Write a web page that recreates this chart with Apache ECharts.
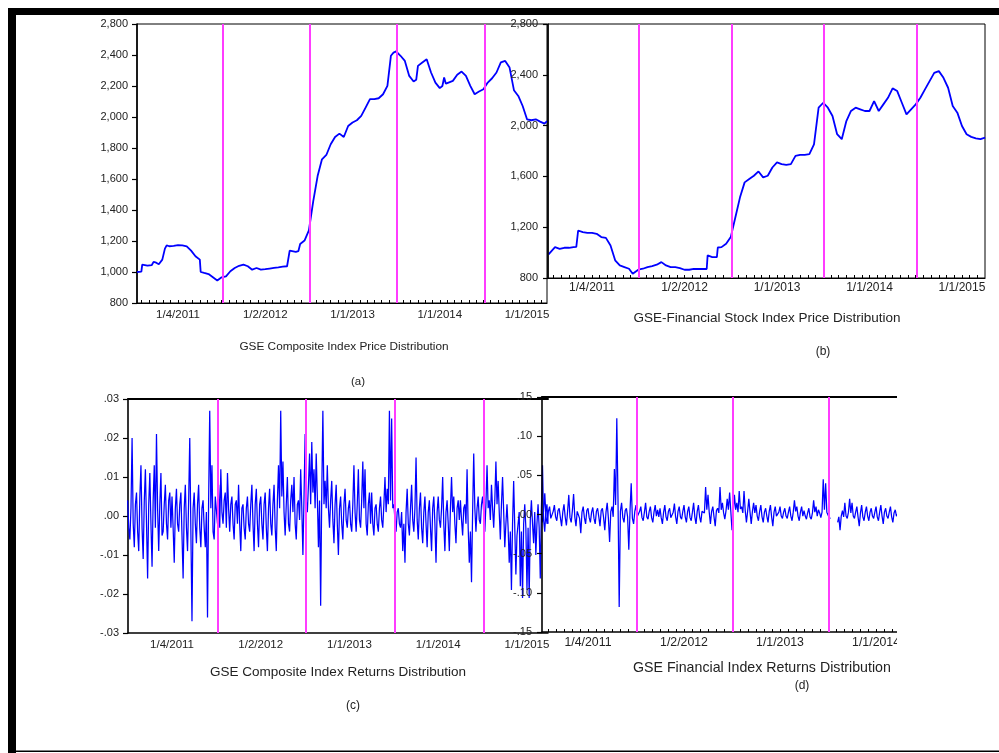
<!DOCTYPE html>
<html>
<head>
<meta charset="utf-8">
<script src="https://cdn.jsdelivr.net/npm/echarts@6/dist/echarts.min.js"></script>
<style>html,body{margin:0;padding:0;background:#fff}#chart{width:999px;height:753px}</style>
</head>
<body>
<div id="chart"></div>
<script>
// ---------- data ----------
const xTickYears = [2011, 2012, 2013, 2014, 2015];
const xTickLabels = ['1/4/2011', '1/2/2012', '1/1/2013', '1/1/2014', '1/1/2015'];
const breakYears = [2011.51, 2012.505, 2013.51, 2014.505];

const compPriceTickValues = [800, 1000, 1200, 1400, 1600, 1800, 2000, 2200, 2400, 2600];
const compPriceTickLabels = ['800', '1,000', '1,200', '1,400', '1,600', '1,800', '2,000', '2,200', '2,400', '2,800'];
const finPriceTickValues = [800, 1200, 1600, 2000, 2400, 2800];
const finPriceTickLabels = ['800', '1,200', '1,600', '2,000', '2,400', '2,800'];

const compYears = [2010.53, 2010.55, 2010.58, 2010.59, 2010.6, 2010.65, 2010.7, 2010.72, 2010.75, 2010.78, 2010.8, 2010.82, 2010.85, 2010.87, 2010.9, 2010.95,
  2011.0, 2011.05, 2011.1, 2011.15, 2011.2, 2011.25, 2011.26, 2011.3, 2011.35, 2011.4, 2011.45, 2011.46, 2011.5, 2011.55, 2011.6, 2011.65, 2011.7, 2011.75, 2011.8, 2011.85, 2011.9, 2011.95,
  2012.0, 2012.05, 2012.1, 2012.15, 2012.2, 2012.25, 2012.27, 2012.28, 2012.3, 2012.35, 2012.38, 2012.4, 2012.45, 2012.5, 2012.55, 2012.6, 2012.65, 2012.7, 2012.75, 2012.8, 2012.85, 2012.9, 2012.95,
  2013.0, 2013.05, 2013.1, 2013.15, 2013.2, 2013.25, 2013.3, 2013.35, 2013.4, 2013.42, 2013.44, 2013.47, 2013.5, 2013.55, 2013.6, 2013.65, 2013.7, 2013.73, 2013.75, 2013.8, 2013.85, 2013.9, 2013.95,
  2014.0, 2014.03, 2014.05, 2014.07, 2014.1, 2014.15, 2014.2, 2014.25, 2014.3, 2014.35, 2014.4, 2014.45, 2014.5, 2014.55, 2014.6, 2014.65, 2014.7, 2014.75, 2014.8, 2014.85, 2014.9, 2014.95,
  2015.0, 2015.05, 2015.1, 2015.15, 2015.2, 2015.23];
const compPrice = [1000, 1000, 1002, 1048, 1043, 1041, 1045, 1065, 1060, 1050, 1048, 1080, 1151, 1172, 1166, 1168,
  1173, 1172, 1166, 1138, 1102, 1080, 1000, 994, 987, 966, 945, 940, 966, 972, 1005, 1026, 1040, 1048, 1037, 1015, 1026, 1015,
  1018, 1022, 1026, 1030, 1035, 1037, 1040, 1138, 1138, 1130, 1135, 1181, 1203, 1268, 1457, 1619, 1727, 1755, 1824, 1871, 1893, 1871, 1942,
  1964, 1979, 2007, 2061, 2115, 2115, 2121, 2147, 2201, 2212, 2395, 2415, 2423, 2395, 2362, 2265, 2229, 2240, 2330, 2352, 2373, 2287, 2222,
  2186, 2200, 2255, 2215, 2222, 2233, 2272, 2293, 2265, 2201, 2147, 2164, 2179, 2222, 2250, 2287, 2352, 2362, 2319, 2173, 2136, 2071,
  1985, 1979, 1985, 1970, 1957, 1974];

const finYears = [2010.53, 2010.55, 2010.6, 2010.65, 2010.7, 2010.75, 2010.8, 2010.83, 2010.85, 2010.9, 2010.95,
  2011.0, 2011.05, 2011.1, 2011.15, 2011.2, 2011.25, 2011.3, 2011.35, 2011.4, 2011.44, 2011.45, 2011.5, 2011.55, 2011.6, 2011.65, 2011.7, 2011.75, 2011.8, 2011.85, 2011.9, 2011.95,
  2012.0, 2012.05, 2012.1, 2012.15, 2012.2, 2012.24, 2012.25, 2012.3, 2012.35, 2012.36, 2012.4, 2012.45, 2012.5, 2012.55, 2012.6, 2012.65, 2012.7, 2012.75, 2012.8, 2012.85, 2012.9, 2012.95,
  2013.0, 2013.05, 2013.1, 2013.15, 2013.2, 2013.25, 2013.3, 2013.35, 2013.4, 2013.45, 2013.5, 2013.55, 2013.6, 2013.65, 2013.7, 2013.75, 2013.8, 2013.85, 2013.9, 2013.95,
  2014.0, 2014.05, 2014.1, 2014.15, 2014.2, 2014.25, 2014.3, 2014.35, 2014.4, 2014.45, 2014.5, 2014.55, 2014.6, 2014.65, 2014.7, 2014.75, 2014.8, 2014.85, 2014.9, 2014.95,
  2015.0, 2015.05, 2015.1, 2015.15, 2015.2, 2015.25];
const finPrice = [986, 991, 1043, 1030, 1038, 1038, 1043, 1045, 1174, 1161, 1155,
  1155, 1148, 1122, 1116, 1056, 939, 899, 886, 873, 834, 847, 865, 873, 886, 894, 905, 925, 899, 886, 886, 878,
  865, 865, 871, 871, 871, 871, 978, 965, 965, 1040, 1043, 1069, 1122, 1278, 1435, 1553, 1579, 1605, 1639, 1592, 1605, 1670,
  1710, 1697, 1691, 1697, 1762, 1770, 1770, 1775, 1853, 2141, 2180, 2141, 2076, 1932, 1893, 2036, 2115, 2141, 2128, 2115,
  2115, 2193, 2115, 2167, 2219, 2293, 2272, 2180, 2089, 2128, 2167, 2219, 2285, 2350, 2415, 2429, 2376, 2298, 2154, 2102,
  1997, 1932, 1911, 1900, 1893, 1906];

// returns: one value per observation, observations spaced returnsStepYears apart from returnsStartYear
const returnsStartYear = 2010.5;
const returnsStepYears = 0.0125;
const compReturns = [
  0.004, -0.003, -0.006, 0.002, 0.020, -0.002, -0.008, 0.003, 0.006, -0.004, -0.009, 0.005, 0.013, -0.003, -0.011, 0.004, 0.012, -0.002, -0.016, 0.003,
  0.011, -0.002, -0.013, 0.004, 0.013, -0.003, 0.021, 0.002, -0.009, 0.003, 0.011, -0.005, -0.004, 0.003, 0.008, -0.002, -0.006, 0.004, 0.006, -0.003,
  0.005, -0.003, -0.012, 0.002, 0.007, -0.002, -0.004, 0.003, 0.006, -0.005, -0.016, 0.002, 0.008, -0.003, -0.009, 0.004, 0.020, -0.004, -0.027, 0.002,
  0.006, -0.002, -0.007, 0.003, 0.008, -0.003, -0.008, 0.002, 0.004, -0.003, -0.008, 0.001, -0.026, 0.004, 0.027, 0.002, 0.013, -0.004, -0.006, 0.005,
  0.005, -0.002, 0.008, -0.003, 0.012, 0.001, -0.002, 0.004, 0.006, -0.003, 0.011, 0.002, -0.004, 0.003, 0.005, -0.002, -0.006, 0.003, 0.004, -0.002,
  0.008, -0.002, -0.009, 0.002, 0.003, -0.003, -0.006, 0.002, 0.005, -0.002, -0.004, 0.003, 0.008, -0.002, -0.009, 0.003, 0.007, -0.002, -0.008, 0.003,
  0.005, -0.002, -0.006, 0.003, 0.006, -0.003, -0.009, 0.002, 0.007, -0.002, -0.005, 0.003, 0.008, -0.003, -0.009, 0.004, 0.013, 0.002, 0.027, 0.005,
  0.014, 0.001, -0.005, 0.003, 0.010, -0.002, -0.004, 0.004, 0.008, 0.001, 0.010, -0.002, -0.006, 0.003, 0.004, -0.001, 0.012, 0.002, -0.010, 0.005,
  0.021, 0.004, 0.001, 0.008, 0.016, 0.003, 0.019, 0.006, 0.012, 0.002, 0.016, 0.005, -0.008, 0.004, -0.023, 0.006, 0.027, 0.003, 0.009, 0.002,
  0.013, 0.002, -0.003, 0.004, 0.009, -0.001, -0.007, 0.003, 0.008, -0.002, -0.010, 0.002, 0.005, -0.002, -0.006, 0.003, 0.007, -0.001, -0.003, 0.002,
  0.004, -0.002, -0.004, 0.003, 0.013, 0.001, -0.004, 0.003, 0.012, -0.001, -0.003, 0.004, 0.014, 0.002, 0.012, -0.002, -0.005, 0.003, 0.006, -0.002,
  0.006, -0.002, -0.005, 0.002, 0.003, -0.002, -0.004, 0.002, 0.005, -0.001, -0.003, 0.003, 0.010, 0.001, 0.007, 0.003, 0.027, 0.004, 0.025, 0.002,
  0.003, -0.001, -0.004, 0.001, 0.002, -0.002, -0.003, 0.001, -0.009, -0.002, -0.012, 0.001, 0.007, -0.002, -0.005, 0.002, 0.008, -0.001, -0.004, 0.002,
  0.015, -0.001, -0.006, 0.002, 0.006, -0.003, -0.007, 0.001, 0.005, -0.002, -0.008, 0.001, 0.004, -0.003, -0.009, 0.002, 0.005, -0.002, -0.012, 0.001,
  0.005, -0.001, -0.003, 0.002, 0.010, -0.002, -0.009, 0.001, 0.004, -0.002, -0.009, 0.002, 0.010, 0.001, 0.005, -0.002, -0.007, 0.002, 0.004, -0.001,
  0.004, -0.001, -0.005, 0.002, 0.003, -0.002, 0.012, -0.003, -0.012, -0.004, -0.017, 0.001, 0.016, 0.002, -0.004, 0.002, 0.005, -0.001, -0.002, 0.003,
  0.005, 0.001, -0.004, 0.003, 0.013, 0.002, 0.004, -0.001, 0.008, 0.002, -0.003, 0.004, 0.014, 0.003, 0.009, 0.001, -0.006, 0.003, 0.010, 0.001,
  -0.008, -0.002, 0.003, -0.003, -0.012, -0.004, -0.019, -0.002, 0.009, -0.003, -0.015, -0.005, -0.005, 0.001, -0.018, -0.004, -0.021, -0.002, 0.003, -0.003,
  -0.019, -0.003, -0.021, -0.001, 0.004, -0.002, -0.007, 0.001, -0.010, -0.002, 0.003, -0.003, -0.016, 0.002, 0.013, -0.001, -0.004, 0.001, 0.003, -0.002
];
const finReturns = [
  0.015, -0.004, -0.010, 0.005, 0.027, -0.003, -0.012, 0.004, 0.010, -0.005, -0.006, 0.004, 0.012, -0.003, -0.008, 0.005, 0.008, -0.004, -0.015, 0.003,
  0.013, -0.003, -0.014, 0.004, 0.025, -0.004, -0.010, 0.005, 0.026, -0.003, -0.015, 0.004, 0.006, -0.005, -0.024, 0.003, 0.010, -0.004, -0.012, 0.005,
  0.008, -0.004, -0.010, 0.003, 0.009, -0.005, -0.012, 0.004, 0.008, -0.003, -0.015, 0.005, 0.008, -0.004, -0.020, 0.003, 0.015, -0.005, -0.035, 0.004,
  0.010, -0.003, 0.058, 0.012, 0.123, 0.020, -0.118, 0.004, 0.015, -0.004, -0.010, 0.005, 0.008, -0.003, -0.045, 0.004, 0.040, -0.005, -0.012, 0.004,
  0.012, -0.003, -0.005, 0.004, 0.010, -0.004, -0.008, 0.003, 0.015, -0.003, -0.006, 0.004, 0.010, -0.004, -0.010, 0.003, 0.012, -0.002, 0.006, -0.003,
  0.008, -0.004, -0.012, 0.003, 0.012, -0.003, -0.008, 0.004, 0.008, -0.004, -0.005, 0.003, 0.014, -0.003, -0.012, 0.004, 0.010, -0.003, -0.006, 0.004,
  0.012, -0.003, -0.010, 0.004, 0.010, -0.004, -0.008, 0.003, 0.015, -0.003, -0.012, 0.004, 0.012, -0.003, -0.010, 0.004, 0.006, 0.002, 0.035, 0.006,
  0.025, 0.003, -0.012, 0.004, 0.010, -0.003, -0.015, 0.005, 0.008, 0.002, 0.035, 0.006, 0.015, 0.002, -0.006, 0.005, 0.020, 0.006, 0.028, 0.004,
  -0.020, 0.004, 0.025, 0.006, 0.015, 0.003, 0.030, 0.007, 0.010, 0.002, 0.030, 0.005, -0.010, 0.004, 0.020, 0.003, -0.012, 0.004, 0.015, 0.002,
  0.012, -0.002, -0.008, 0.004, 0.012, -0.003, -0.010, 0.003, 0.008, -0.002, -0.010, 0.004, 0.012, -0.003, -0.015, 0.003, 0.010, -0.002, -0.004, 0.003,
  0.010, -0.002, -0.005, 0.003, 0.008, -0.002, -0.005, 0.003, 0.010, -0.002, -0.008, 0.003, 0.018, 0.004, 0.010, -0.002, -0.008, 0.003, 0.010, -0.002,
  0.005, -0.002, -0.006, 0.002, 0.008, -0.003, -0.006, 0.002, 0.018, 0.003, 0.010, -0.002, 0.006, 0.002, -0.004, 0.003, 0.045, 0.006, 0.040, 0.003,
  0.002, -0.004, -0.005, null, null, null, null, null, -0.010, -0.003, -0.020, -0.002, 0.005, -0.003, 0.015, -0.002, -0.005, 0.003, 0.020, 0.002,
  0.015, -0.002, -0.005, 0.003, 0.010, -0.003, -0.015, 0.002, 0.012, -0.003, -0.008, 0.003, 0.010, -0.002, -0.008, 0.003, 0.008, -0.002, -0.005, 0.003,
  0.010, -0.003, -0.008, 0.003, 0.012, -0.002, -0.012, 0.003, 0.008, -0.002, -0.005, 0.003, 0.010, -0.003, -0.010, 0.002, 0.006, -0.002, -0.004, 0.003
];

// ---------- build ----------
const FONT = '"Liberation Sans", Arial, sans-serif';
const TEXT = '#222';
const BLUE = '#0000ff';
const MAGENTA = '#ff3cff';

const pairs = (xs, ys) => xs.map((x, i) => [x, ys[i]]);
const returnPairs = vals => vals.map((v, i) => [returnsStartYear + i * returnsStepYears, v === null ? '-' : v]);
const xLabel = v => { const i = xTickYears.indexOf(Math.round(v)); return i >= 0 ? xTickLabels[i] : ''; };
const lookupLabel = (vals, labels) => v => { const i = vals.findIndex(t => Math.abs(t - v) < 1e-6); return i >= 0 ? labels[i] : ''; };
const retLabel = v => { const s = Math.abs(v).toFixed(2).replace(/^0/, ''); return (v < -1e-9 ? '-' : '') + s; };

function monthTicks(min, max) {
  const out = [];
  for (let k = -12; k <= 60; k++) { const v = 2011 + k / 12; if (v > min + 1e-6 && v < max - 1e-6) out.push(v); }
  return out;
}

const xRanges = [[2010.530, 2015.229], [2010.524, 2015.249], [2010.504, 2015.237], [2010.521, 2015.237]];
const xTickOn = [true, true, false, true];
const xLabelFont = [11.5, 12, 11.5, 12.3];
const xLabelMargin = [6, 4, 6, 5];

const xAxes = xRanges.map((r, g) => ({
  type: 'value', gridIndex: g, min: r[0], max: r[1], position: 'bottom', z: g % 2 ? 4 : 1,
  axisLine: { show: true, onZero: false, lineStyle: { color: '#000', width: g >= 2 ? 1.5 : 1.2 } },
  axisTick: { show: xTickOn[g], inside: true, length: 3, customValues: monthTicks(r[0], r[1]), lineStyle: { color: '#000', width: 1 } },
  axisLabel: { customValues: xTickYears, formatter: xLabel, fontSize: xLabelFont[g], fontFamily: FONT, color: TEXT, margin: xLabelMargin[g], hideOverlap: false },
  splitLine: { show: false }
}));
// top border lines for the returns panels
[2, 3].forEach(g => xAxes.push({
  type: 'value', gridIndex: g, min: xRanges[g][0], max: xRanges[g][1], position: 'top', z: g === 3 ? 4 : 1,
  axisLine: { show: true, onZero: false, lineStyle: { color: '#000', width: 2 } },
  axisTick: { show: false }, axisLabel: { show: false }, splitLine: { show: false }
}));

const yBase = (g, min, max, interval, formatter, margin) => ({
  type: 'value', gridIndex: g, min, max, interval, z: g % 2 ? 4 : 1,
  axisLine: { show: true, onZero: false, lineStyle: { color: '#000', width: 1.6 } },
  axisTick: { show: true, inside: false, length: 5, lineStyle: { color: '#000', width: 1.2 } },
  axisLabel: { formatter, fontSize: 11, fontFamily: FONT, color: TEXT, margin, showMinLabel: true, showMaxLabel: true },
  splitLine: { show: false }
});

const yAxes = [
  yBase(0, 800, 2600, 200, lookupLabel(compPriceTickValues, compPriceTickLabels), 9),
  yBase(1, 800, 2800, 400, lookupLabel(finPriceTickValues, finPriceTickLabels), 10),
  yBase(2, -0.03, 0.03, 0.01, retLabel, 9),
  yBase(3, -0.15, 0.15, 0.05, retLabel, 10)
];

const breakLines = {
  silent: true, symbol: ['none', 'none'], label: { show: false }, animation: false,
  lineStyle: { color: MAGENTA, width: 2, type: 'solid' },
  emphasis: { disabled: true },
  data: breakYears.map(x => ({ xAxis: x }))
};

const lineSeries = (g, data, width) => ({
  type: 'line', xAxisIndex: g, yAxisIndex: g, data, showSymbol: false, symbol: 'none',
  lineStyle: { color: BLUE, width }, itemStyle: { color: BLUE }, connectNulls: false,
  z: 2, markLine: breakLines, animation: false
});

const txt = (text, x, y, size, align) => ({
  type: 'text', x, y, z: 50,
  style: { text, fill: TEXT, font: size + 'px ' + FONT, textAlign: align || 'center', textVerticalAlign: 'middle' }
});

const option = {
  animation: false,
  backgroundColor: '#ffffff',
  grid: [
    { left: 137, top: 24, width: 410, height: 279, show: true, borderColor: '#000', borderWidth: 1, backgroundColor: 'transparent' },
    { left: 548, top: 24, width: 437, height: 254, show: true, borderColor: '#000', borderWidth: 1, backgroundColor: 'transparent' },
    { left: 128, top: 399, width: 420, height: 234 },
    { left: 542, top: 397, width: 456, height: 235 }
  ],
  xAxis: xAxes,
  yAxis: yAxes,
  series: [
    lineSeries(0, pairs(compYears, compPrice), 1.8),
    lineSeries(1, pairs(finYears, finPrice), 1.8),
    lineSeries(2, returnPairs(compReturns), 1.25),
    lineSeries(3, returnPairs(finReturns), 1.25)
  ],
  graphic: [
    txt('GSE Composite Index Price Distribution', 344, 347, 11.8),
    txt('(a)', 358, 382, 11.5),
    txt('GSE-Financial Stock Index Price Distribution', 767, 318, 13.5),
    txt('(b)', 823, 352, 12),
    txt('GSE Composite Index Returns Distribution', 338, 672, 13.5),
    txt('(c)', 353, 706, 12),
    txt('GSE Financial Index Returns Distribution', 633, 668, 14.2, 'left'),
    txt('(d)', 802, 686, 12),
    // clip of the cut-off panel (d)
    { type: 'rect', z: 100, shape: { x: 897, y: 386, width: 102, height: 362 }, style: { fill: '#ffffff' } },
    // black frame
    { type: 'rect', z: 110, shape: { x: 8, y: 8, width: 991, height: 7 }, style: { fill: '#000' } },
    { type: 'rect', z: 110, shape: { x: 8, y: 8, width: 8, height: 745 }, style: { fill: '#000' } },
    { type: 'rect', z: 110, shape: { x: 8, y: 750.5, width: 991, height: 1.5 }, style: { fill: '#000' } }
  ]
};

const chart = echarts.init(document.getElementById('chart'), null, { renderer: 'canvas' });
chart.setOption(option);
</script>
</body>
</html>
